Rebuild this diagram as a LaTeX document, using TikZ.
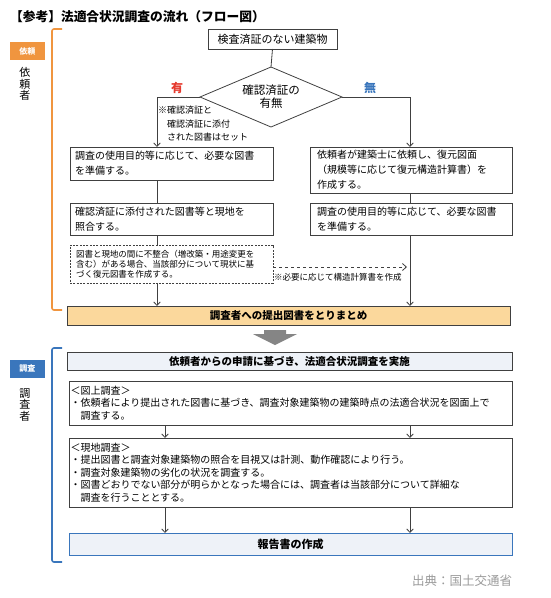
\documentclass[tikz,border=0pt]{standalone}
\usepackage{fontspec}
\setmainfont{Noto Sans CJK JP}
\usetikzlibrary{arrows.meta,shapes.geometric}
\definecolor{ln}{HTML}{404040}
\definecolor{org}{HTML}{F0953F}
\definecolor{orgfill}{HTML}{FBD89C}
\definecolor{blu}{HTML}{3A76BC}
\definecolor{blufill}{HTML}{EEF2F8}
\definecolor{redc}{HTML}{E53A2E}
\definecolor{grayt}{HTML}{9A9A9A}
\definecolor{arrg}{HTML}{858585}
\newcommand{\fsz}[2]{\fontsize{#1}{#2}\selectfont}
\begin{document}
\begin{tikzpicture}[x=1pt,y=-1pt,
  every node/.style={inner sep=0pt, outer sep=0pt},
  box/.style={draw=ln, line width=0.8pt, fill=white, rectangle, align=left},
  tagbox/.style={minimum width=35, minimum height=18, text=white, font=\bfseries\fsz{8}{9}},
  vert/.style={align=center, font=\fsz{11}{11.8}},
  conn/.style={draw=ln, line width=0.8pt},
  arr/.style={conn, -{Straight Barb[length=3.5pt,width=6.5pt]}},
  brk/.style={line width=1.6pt, rounded corners=2pt}
]
\useasboundingbox (0,0) rectangle (550,598);

% title
\node[anchor=west, font=\bfseries\fsz{12.75}{14}] (title) at (10,17) {【参考】法適合状況調査の流れ（フロー図）};

% side tags
\node[tagbox, fill=org] (tag1) at (27.5,51) {依頼};
\node[vert] (who1) at (25,84) {依\\頼\\者};
\draw[org, brk] (62,29) -- (52,29) -- (52,310) -- (62,310);

\node[tagbox, fill=blu] (tag2) at (27.5,368.5) {調査};
\node[vert] (who2) at (25,405) {調\\査\\者};
\draw[blu, brk] (62,348) -- (52,348) -- (52,562) -- (62,562);

% top part
\node[box, minimum width=129, minimum height=20, font=\fsz{11}{13}] (top) at (272.5,39) {検査済証のない建築物};
\node[diamond, draw=ln, line width=0.8pt, minimum width=142, minimum height=60] (dia) at (271,97) {};
\node[align=center, font=\fsz{11.5}{13}] (diat) at (dia.center) {確認済証の\\有無};
\node[text=redc, font=\bfseries\fsz{12}{12}] (ari) at (177,88) {有};
\node[text=blu, font=\bfseries\fsz{12}{12}] (nashi) at (370,88) {無};

\coordinate (lx) at (157,0);
\coordinate (rx) at (410,0);
\coordinate (mx) at (165,0);

\node[anchor=west, align=left, font=\fsz{9}{13.5}] (note) at (158,124) {※確認済証と\\　確認済証に添付\\　された図書はセット};

\node[box, minimum height=33, text width=193, inner xsep=5, font=\fsz{10}{15}] (lb1) at (171.5,163.5) {調査の使用目的等に応じて、必要な図書\\を準備する。};
\node[box, minimum height=32, text width=193, inner xsep=5, font=\fsz{10}{15}] (lb2) at (171.5,219) {確認済証に添付された図書等と現地を\\照合する。};
\node[box, dash pattern=on 2pt off 1.3pt, minimum height=38, text width=191, inner xsep=6, font=\fsz{8.5}{10}] (db) at (171.5,264) {図書と現地の間に不整合（増改築・用途変更を\\含む）がある場合、当該部分について現状に基\\づく復元図書を作成する。};

\node[box, minimum height=46, text width=188, inner xsep=7, font=\fsz{10}{15}] (rb1) at (411,170) {依頼者が建築士に依頼し、復元図面\\（規模等に応じて復元構造計算書）を\\作成する。};
\node[box, minimum height=32, text width=188, inner xsep=7, font=\fsz{10}{15}] (rb2) at (411,219) {調査の使用目的等に応じて、必要な図書\\を準備する。};

\node[draw=ln, line width=0.8pt, fill=orgfill, minimum width=443, minimum height=19, font=\bfseries\fsz{10.5}{12}] (ob) at (288.5,315.5) {調査者への提出図書をとりまとめ};

\coordinate (dend) at (407,267);
\node[anchor=west, font=\fsz{8.5}{10}] (dlab) at (274,277) {※必要に応じて構造計算書を作成};

% connectors top part
\draw[conn] (top.south) -- (dia.north);
\draw[arr] (dia.west) -| (lx |- lb1.north);
\draw[arr] (dia.east) -| (rx |- rb1.north);
\draw[conn] (lx |- lb1.south) -- (lx |- lb2.north);
\draw[conn] (lx |- lb2.south) -- (lx |- db.north);
\draw[arr] (lx |- db.south) -- (lx |- ob.north);
\draw[conn] (rx |- rb1.south) -- (rx |- rb2.north);
\draw[arr] (rx |- rb2.south) -- (rx |- ob.north);
\draw[conn, dashed, -{Straight Barb[length=4pt,width=7pt]}] (db.east |- dend) -- (dend);

% big gray arrow
\fill[arrg] (264,330) -- (286,330) -- (286,334) -- (297,334) -- (275,345) -- (253,334) -- (264,334) -- cycle;

% bottom part
\node[draw=ln, line width=0.8pt, fill=blufill, minimum width=445, minimum height=18, font=\bfseries\fsz{10.5}{12}] (req) at (289.5,361) {依頼者からの申請に基づき、法適合状況調査を実施};

\node[box, minimum height=44, text width=440, inner xsep=1.5, font=\fsz{10}{12.5}] (zu) at (290.5,403) {＜図上調査＞\\・依頼者により提出された図書に基づき、調査対象建築物の建築時点の法適合状況を図面上で\\　調査する。};

\node[box, minimum height=69, text width=440, inner xsep=1.5, font=\fsz{10}{12.5}] (gen) at (290.5,472.5) {＜現地調査＞\\・提出図書と調査対象建築物の照合を目視又は計測、動作確認により行う。\\・調査対象建築物の劣化の状況を調査する。\\・図書どおりでない部分が明らかとなった場合には、調査者は当該部分について詳細な\\　調査を行うこととする。};

\node[draw=blu, line width=1pt, fill=blufill, minimum width=443, minimum height=22, font=\bfseries\fsz{11}{12}] (rep) at (290.5,544) {報告書の作成};

\draw[arr] (mx |- zu.south) -- (mx |- gen.north);
\draw[arr] (rx |- zu.south) -- (rx |- gen.north);
\draw[arr] (mx |- gen.south) -- (mx |- rep.north);
\draw[arr] (rx |- gen.south) -- (rx |- rep.north);

\node[anchor=east, text=grayt, font=\fsz{12.5}{13}] (src) at (512,581) {出典：国土交通省};
\end{tikzpicture}
\end{document}
